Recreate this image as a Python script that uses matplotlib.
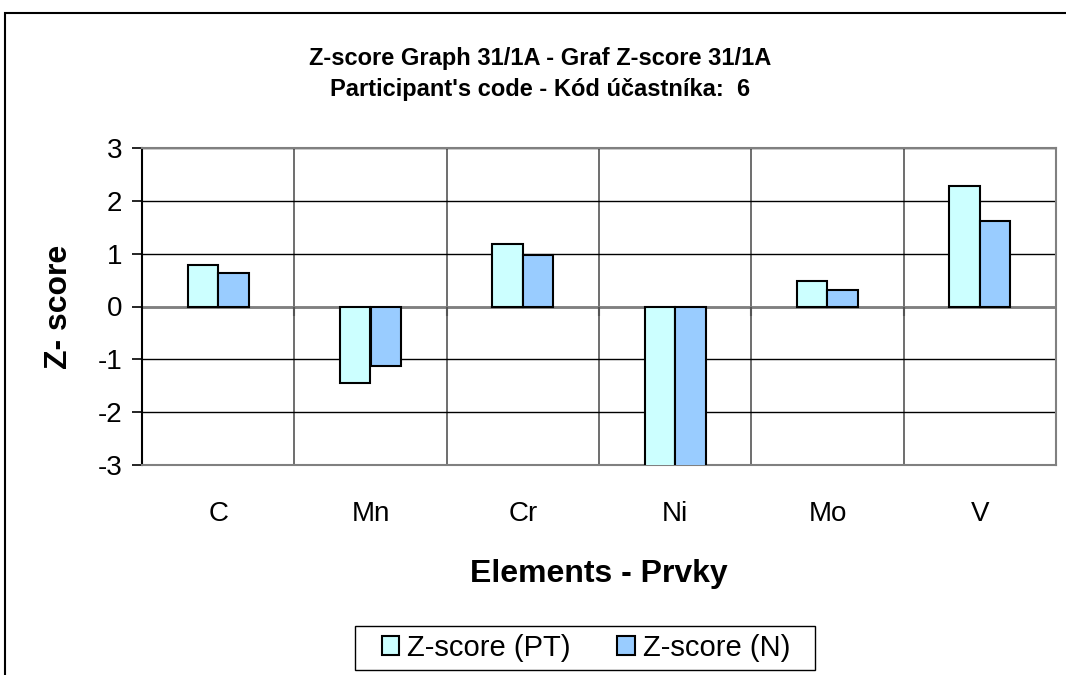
import matplotlib
matplotlib.use("Agg")
import matplotlib.pyplot as plt
import numpy as np
from matplotlib.patches import Rectangle

plt.rcParams['font.family'] = ['Liberation Sans', 'DejaVu Sans']

# datos
elementos = ['C', 'Mn', 'Cr', 'Ni', 'Mo', 'V']
z_pt = [0.78, -1.44, 1.19, -4.5, 0.49, 2.29]
z_n = [0.63, -1.13, 0.98, -4.3, 0.32, 1.62]
yticks = [-3, -2, -1, 0, 1, 2, 3]

fig = plt.figure(figsize=(10.66, 6.75), dpi=100)
ax = fig.add_axes([142 / 1066, 1 - 465 / 675, 914 / 1066, 317 / 675])

x = np.arange(len(elementos))
ancho = 0.2
ax.bar(x - ancho / 2, z_pt, ancho, color='#CCFFFF', edgecolor='black', linewidth=1.5,
       label='Z-score (PT)', zorder=3)
ax.bar(x + ancho / 2, z_n, ancho, color='#99CCFF', edgecolor='black', linewidth=1.5,
       label='Z-score (N)', zorder=3)

ax.set_xlim(-0.5, len(elementos) - 0.5)
ax.set_ylim(-3, 3)
ax.set_yticks(yticks)
ax.set_yticklabels([str(v) for v in yticks], fontsize=20)
ax.set_xticks(x)
ax.set_xticklabels(elementos, fontsize=20)
ax.tick_params(axis='x', length=0, pad=26)
ax.tick_params(axis='y', direction='out', length=7.2, width=1.2, color='black', pad=7)

# rejilla
ax.set_xticks(np.arange(0.5, len(elementos) - 0.5, 1), minor=True)
ax.tick_params(axis='x', which='minor', length=0)
ax.grid(axis='y', which='major', color='black', linewidth=1, zorder=1)
ax.grid(axis='x', which='minor', color='#555555', linewidth=1.2, zorder=1)
ax.axhline(0, color='#808080', linewidth=2, zorder=2)
ax.vlines(np.arange(0.5, len(elementos) - 0.5, 1), -0.18, 0, color='#555555', linewidth=1.5, zorder=2)

for lado in ['top', 'right', 'bottom']:
    ax.spines[lado].set_color('#808080')
    ax.spines[lado].set_linewidth(1.5)
ax.spines['left'].set_color('black')
ax.spines['left'].set_linewidth(1.5)

ax.set_xlabel('Elements - Prvky', fontsize=23, fontweight='bold')
ax.xaxis.set_label_coords(0.5, -0.295)
ax.set_ylabel('Z- score', fontsize=23, fontweight='bold')
ax.yaxis.set_label_coords(-0.074, 0.5)

fig.text(0.507, 1 - 74 / 675,
         "Z-score Graph 31/1A - Graf Z-score 31/1A\nParticipant's code - Kód účastníka:  6",
         ha='center', va='center', fontsize=17, fontweight='bold', linespacing=1.45)

leg = fig.legend(loc='center', bbox_to_anchor=(586 / 1066, 1 - 648 / 675), ncol=2,
                 fontsize=21, frameon=False,
                 handlelength=0.6, handleheight=0.6, handletextpad=0.27, columnspacing=1.6,
                 borderpad=0.2)
# marco de la leyenda
fig.patches.append(Rectangle((355 / 1066, 1 - 670 / 675), 460 / 1066, 44 / 675,
                             transform=fig.transFigure, fill=False, edgecolor='black',
                             linewidth=1))

# borde del area del grafico
fig.patches.append(Rectangle((5 / 1066, -0.1), 1.2, 1.1 - 13 / 675, transform=fig.transFigure,
                             fill=False, edgecolor='black', linewidth=1.5))

plt.savefig('out.png', dpi=100)
